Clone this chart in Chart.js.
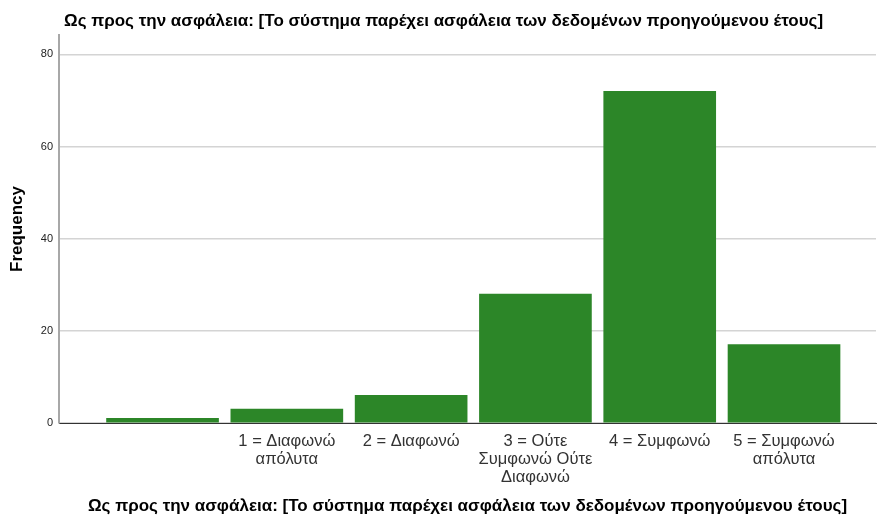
<!DOCTYPE html>
<html>
<head>
<meta charset="utf-8">
<script src="https://cdn.jsdelivr.net/npm/chart.js@4"></script>
<style>
  html, body { margin: 0; padding: 0; background: #fff; }
  #wrap { width: 877px; height: 518px; position: relative; }
</style>
</head>
<body>
<div id="wrap"><canvas id="barChart"></canvas></div>
<script>
// values
const categories = [
    [''],
    ['1 = Διαφωνώ', 'απόλυτα'],
    ['2 = Διαφωνώ'],
    ['3 = Ούτε', 'Συμφωνώ Ούτε', 'Διαφωνώ'],
    ['4 = Συμφωνώ'],
    ['5 = Συμφωνώ', 'απόλυτα']
];
const frequencies = [1, 3, 6, 28, 72, 17];
const yTicks = [0, 20, 40, 60, 80];

const titleText = 'Ως προς την ασφάλεια: [Το σύστημα παρέχει ασφάλεια των δεδομένων προηγούμενου έτους]';
const barColor = '#2c8628';
const fontFamily = '"Liberation Sans", Arial, sans-serif';

// chart title drawn top-left like SPSS output
const topTitle = {
    id: 'topTitle',
    afterDraw(chart) {
        const ctx = chart.ctx;
        ctx.save();
        ctx.font = 'bold 17px ' + fontFamily;
        ctx.fillStyle = '#000';
        ctx.textBaseline = 'middle';
        ctx.fillText(titleText, 64, 21);
        ctx.restore();
    }
};

const ctxBar = document.getElementById('barChart');

new Chart(ctxBar, {
    type: 'bar',
    data: {
        datasets: [{
            data: frequencies.map((v, i) => ({ x: i, y: v })),
            backgroundColor: barColor,
            borderWidth: 0,
            barThickness: 112
        }]
    },
    plugins: [topTitle],
    options: {
        responsive: true,
        maintainAspectRatio: false,
        animation: false,
        layout: {
            padding: { top: 35, right: 1, bottom: 0, left: 0 }
        },
        plugins: {
            legend: { display: false },
            tooltip: { enabled: false }
        },
        scales: {
            x: {
                type: 'linear',
                offset: false,
                min: -0.833,
                max: 5.74,
                afterBuildTicks: (scale) => {
                    scale.ticks = categories.map((c, i) => ({ value: i }));
                },
                afterFit: (scale) => { scale.height = 95; },
                ticks: {
                    autoSkip: false,
                    maxRotation: 0,
                    padding: 9,
                    color: '#333',
                    font: { family: fontFamily, size: 16.5, lineHeight: 1.1 },
                    callback: (value) => categories[value]
                },
                grid: { display: false, drawTicks: false, offset: false },
                border: { color: '#333', width: 1 },
                title: {
                    display: true,
                    text: titleText,
                    color: '#000',
                    font: { family: fontFamily, size: 17, weight: 'bold' },
                    padding: { top: 20, bottom: 1 }
                }
            },
            y: {
                min: 0,
                max: 84.2,
                afterBuildTicks: (scale) => {
                    scale.ticks = yTicks.map(v => ({ value: v }));
                },
                afterFit: (scale) => { scale.width = 59; },
                ticks: {
                    padding: 6,
                    color: '#222',
                    font: { family: fontFamily, size: 11 }
                },
                grid: { color: '#d4d4d4', lineWidth: 1.5, drawTicks: false },
                border: { color: '#a8a8a8', width: 2 },
                title: {
                    display: true,
                    text: 'Frequency',
                    color: '#000',
                    font: { family: fontFamily, size: 17, weight: 'bold' },
                    padding: { top: 7, bottom: 4 }
                }
            }
        }
    }
});
</script>
</body>
</html>
